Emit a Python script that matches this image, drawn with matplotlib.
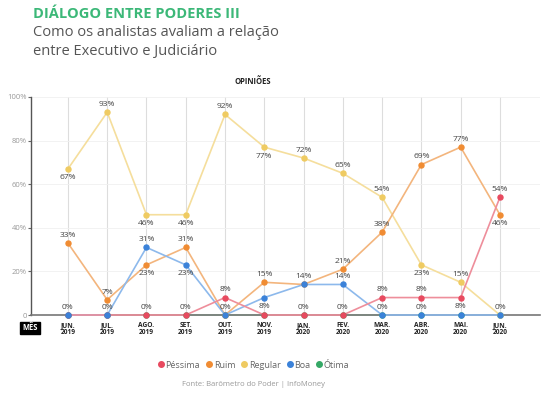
import matplotlib.pyplot as plt
from matplotlib.lines import Line2D

meses = ["JUN.\n2019", "JUL.\n2019", "AGO.\n2019", "SET.\n2019", "OUT.\n2019", "NOV.\n2019",
         "JAN.\n2020", "FEV.\n2020", "MAR.\n2020", "ABR.\n2020", "MAI.\n2020", "JUN.\n2020"]

pessima = [0, 0, 0, 0, 8, 0, 0, 0, 8, 8, 8, 54]
ruim = [33, 7, 23, 31, 0, 15, 14, 21, 38, 69, 77, 46]
regular = [67, 93, 46, 46, 92, 77, 72, 65, 54, 23, 15, 0]
boa = [0, 0, 31, 23, 0, 8, 14, 14, 0, 0, 0, 0]
otima = [0, 0, 0, 0, 0, 0, 0, 0, 0, 0, 0, 0]

y_ticks = [0, 20, 40, 60, 80, 100]
y_labels = ["0", "20%", "40%", "60%", "80%", "100%"]

series = {
    "Ótima": (otima, "#35a866", "#8fd1aa"),
    "Regular": (regular, "#efcb62", "#f5de9c"),
    "Ruim": (ruim, "#f08c33", "#f3b57d"),
    "Péssima": (pessima, "#e84a5f", "#ee8e9b"),
    "Boa": (boa, "#3b82d9", "#8db9ec"),
}
ordem_linhas = ["Regular", "Ruim", "Boa", "Péssima"]
ordem_pontos = ["Ótima", "Regular", "Ruim", "Péssima", "Boa"]

# rótulos: (série, mês, acima/abaixo)
rotulos = [
    ("Regular", 0, "b"), ("Regular", 1, "a"), ("Regular", 2, "b"), ("Regular", 3, "b"),
    ("Regular", 4, "a"), ("Regular", 5, "b"), ("Regular", 6, "a"), ("Regular", 7, "a"),
    ("Regular", 8, "a"), ("Regular", 9, "b"), ("Regular", 10, "a"), ("Regular", 11, "a"),
    ("Ruim", 0, "a"), ("Ruim", 1, "a"), ("Ruim", 2, "b"), ("Ruim", 3, "a"),
    ("Ruim", 5, "a"), ("Ruim", 7, "a"), ("Ruim", 8, "a"), ("Ruim", 9, "a"),
    ("Ruim", 10, "a"), ("Ruim", 11, "b"),
    ("Boa", 2, "a"), ("Boa", 3, "b"), ("Boa", 5, "b"), ("Boa", 6, "a"), ("Boa", 7, "a"),
    ("Boa", 0, "a"), ("Boa", 1, "a"), ("Boa", 4, "a"), ("Boa", 8, "a"), ("Boa", 9, "a"),
    ("Péssima", 2, "a"), ("Péssima", 3, "a"), ("Péssima", 6, "a"), ("Péssima", 7, "a"),
    ("Péssima", 4, "a"), ("Péssima", 8, "a"), ("Péssima", 9, "a"), ("Péssima", 10, "b"),
    ("Péssima", 11, "a"),
]

plt.rcParams["font.family"] = ["Open Sans", "DejaVu Sans"]

fig = plt.figure(figsize=(5.5, 3.97), dpi=100)
ax = fig.add_axes([31 / 550, 1 - 315 / 397, 509 / 550, 218 / 397])

x = list(range(len(meses)))
# Ótima fica sempre em zero, por baixo do eixo
ax.plot(x, otima, color=series["Ótima"][2], lw=1.2, zorder=1, clip_on=False)
for nome in ordem_linhas:
    vals, cor, cor_linha = series[nome]
    ax.plot(x, vals, color=cor_linha, lw=1.2, zorder=3, clip_on=False)
for nome in ordem_pontos:
    vals, cor, cor_linha = series[nome]
    ax.plot(x, vals, "o", color=cor, ms=3.6, zorder=4, clip_on=False)

for nome, i, pos in rotulos:
    v = series[nome][0][i]
    dy = 3 if pos == "a" else -4
    ax.annotate(f"{v}%", (i, v), xytext=(0, dy), textcoords="offset points",
                ha="center", va="bottom" if pos == "a" else "top",
                fontsize=6, color="#444444", zorder=5)

ax.set_xlim(-0.94, 12.02)
ax.set_ylim(0, 100)
ax.set_yticks(y_ticks)
ax.set_yticklabels(y_labels, fontsize=5.5, color="#999999")
ax.set_xticks(x)
ax.set_xticklabels(meses, fontsize=4.8, fontweight="bold", color="#222222", linespacing=1.0)
ax.tick_params(axis="x", length=0, pad=5)
ax.tick_params(axis="y", length=2, width=0.8, color="#666666", pad=1)

ax.grid(axis="x", color="#dddddd", lw=0.8)
ax.grid(axis="y", color="#f0f0f0", lw=0.6)
ax.set_axisbelow(True)
for s in ["top", "right"]:
    ax.spines[s].set_visible(False)
ax.spines["left"].set_color("#555555")
ax.spines["bottom"].set_color("#777777")
ax.spines["left"].set_linewidth(1.0)
ax.spines["bottom"].set_linewidth(1.2)

fig.text(33 / 550, 1 - 14 / 397, "DIÁLOGO ENTRE PODERES III", fontsize=10.5,
         fontweight="bold", color="#3cb878", va="center")
fig.text(33 / 550, 1 - 42 / 397, "Como os analistas avaliam a relação\nentre Executivo e Judiciário",
         fontsize=10.5, color="#555555", va="center", linespacing=1.35)
fig.text(253 / 550, 1 - 82 / 397, "OPINIÕES", fontsize=5.5, fontweight="bold",
         color="#222222", ha="center", va="center")
fig.text(30 / 550, 1 - 328 / 397, "MÊS", fontsize=5.5, fontweight="bold", color="white",
         ha="center", va="center",
         bbox=dict(boxstyle="square,pad=0.25", fc="black", ec="black"))

handles = [Line2D([], [], marker="o", ls="none", color=series[n][1], ms=4)
           for n in ["Péssima", "Ruim", "Regular", "Boa", "Ótima"]]
leg = fig.legend(handles, ["Péssima", "Ruim", "Regular", "Boa", "Ótima"],
                 loc="center", bbox_to_anchor=(253 / 550, 1 - 365 / 397), ncol=5,
                 frameon=False, fontsize=6.5, handletextpad=0.0, columnspacing=0.5,
                 handlelength=1.0)
for t in leg.get_texts():
    t.set_color("#666666")
fig.text(253 / 550, 1 - 385 / 397, "Fonte: Barômetro do Poder | InfoMoney", fontsize=5.5,
         color="#999999", ha="center", va="center")

fig.savefig("out.png", dpi=100)
